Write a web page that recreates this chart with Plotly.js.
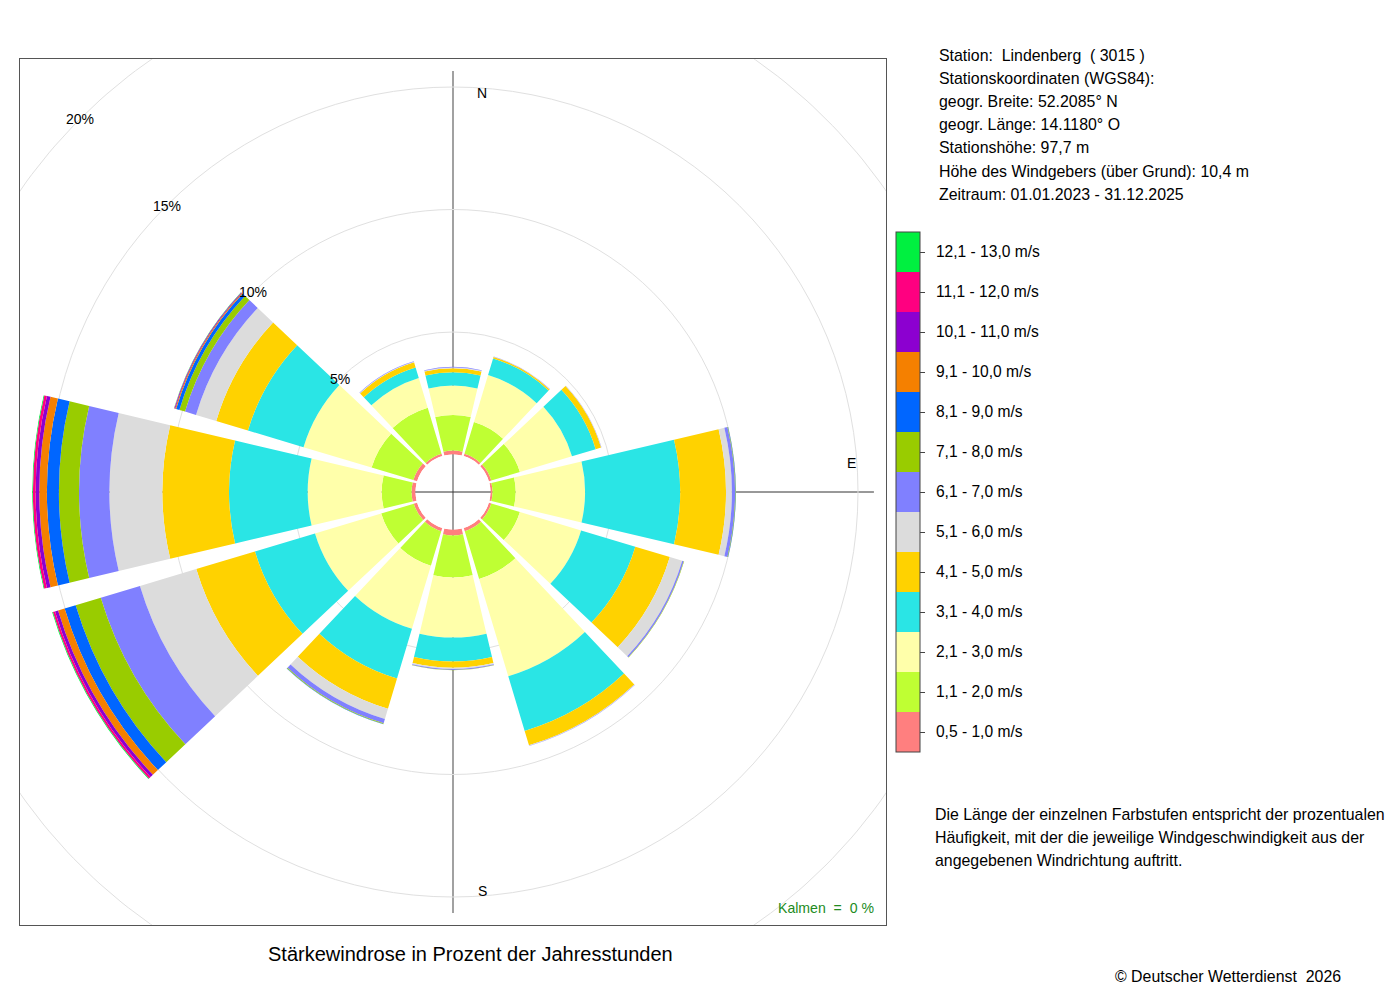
<!DOCTYPE html>
<html>
<head>
<meta charset="utf-8">
<script src="https://cdn.plot.ly/plotly-3.0.1.min.js"></script>
<style>
html,body{margin:0;padding:0;background:#fff;}
#chart{width:1400px;height:1000px;}
</style>
</head>
<body>
<div id="chart"></div>
<script>
// ---------------- data ----------------
const directions = [0, 30, 60, 90, 120, 150, 180, 210, 240, 270, 300, 330];

const classLabels = [
  '0,5 - 1,0 m/s', '1,1 - 2,0 m/s', '2,1 - 3,0 m/s', '3,1 - 4,0 m/s',
  '4,1 - 5,0 m/s', '5,1 - 6,0 m/s', '6,1 - 7,0 m/s', '7,1 - 8,0 m/s',
  '8,1 - 9,0 m/s', '9,1 - 10,0 m/s', '10,1 - 11,0 m/s', '11,1 - 12,0 m/s',
  '12,1 - 13,0 m/s'
];

const classColors = [
  '#FF7F7F', '#BFFF33', '#FFFFAA', '#2AE5E5', '#FFD200', '#DCDCDC', '#8080FF',
  '#99CC00', '#0066FF', '#F58000', '#8C00D0', '#FF0080', '#00F040'
];

// percent of hours per direction (N, NNE, ENE, E, ESE, SSE, S, SSW, WSW, W, WNW, NNW)
const v05_10  = [0.16, 0.10, 0.10, 0.08, 0.10, 0.14, 0.24, 0.14, 0.14, 0.16, 0.16, 0.10];
const v11_20  = [1.45, 1.35, 1.22, 0.95, 1.22, 2.04, 1.72, 1.47, 1.39, 1.22, 1.78, 1.96];
const v21_30  = [1.20, 2.00, 2.22, 2.83, 2.61, 4.14, 2.45, 2.69, 2.82, 3.02, 2.90, 1.27];
const v31_40  = [0.55, 0.71, 1.01, 3.88, 2.31, 2.33, 0.98, 2.12, 2.56, 3.21, 2.37, 0.45];
const v41_50  = [0.16, 0.06, 0.23, 1.87, 1.47, 0.61, 0.25, 1.29, 2.50, 2.72, 1.35, 0.22];
const v51_60  = [0.03, 0.01, 0.01, 0.24, 0.53, 0.02, 0.05, 0.43, 2.40, 2.16, 0.86, 0.02];
const v61_70  = [0.03, 0.01, 0.01, 0.13, 0.06, 0.01, 0.04, 0.18, 1.67, 1.24, 0.47, 0.02];
const v71_80  = [0.00, 0.00, 0.00, 0.02, 0.02, 0.00, 0.01, 0.04, 1.07, 0.82, 0.24, 0.00];
const v81_90  = [0.00, 0.00, 0.00, 0.01, 0.00, 0.00, 0.00, 0.01, 0.47, 0.49, 0.14, 0.00];
const v91_100 = [0.00, 0.00, 0.00, 0.00, 0.00, 0.00, 0.00, 0.00, 0.28, 0.31, 0.04, 0.00];
const v101_110= [0.00, 0.00, 0.00, 0.00, 0.00, 0.00, 0.00, 0.00, 0.13, 0.15, 0.03, 0.00];
const v111_120= [0.00, 0.00, 0.00, 0.00, 0.00, 0.00, 0.00, 0.00, 0.09, 0.11, 0.01, 0.00];
const v121_130= [0.00, 0.00, 0.00, 0.00, 0.00, 0.00, 0.00, 0.00, 0.03, 0.03, 0.01, 0.00];

const radialTicks = [5, 10, 15, 20];
const compassLabels = ['N', 'E', 'S'];
const compassAngles = [4.2, 85.8, 175.8];

const infoLines = [
  'Station:\u00a0 Lindenberg \u00a0( 3015 )',
  'Stationskoordinaten (WGS84):',
  'geogr. Breite: 52.2085° N',
  'geogr. Länge: 14.1180° O',
  'Stationshöhe: 97,7 m',
  'Höhe des Windgebers (über Grund): 10,4 m',
  'Zeitraum: 01.01.2023 - 31.12.2025'
];
const noteLines = [
  'Die Länge der einzelnen Farbstufen entspricht der prozentualen',
  'Häufigkeit, mit der die jeweilige Windgeschwindigkeit aus der',
  'angegebenen Windrichtung auftritt.'
];
const titleText = 'Stärkewindrose in Prozent der Jahresstunden';
const calmText = 'Kalmen \u00a0=\u00a0 0 %';
const copyrightText = '© Deutscher Wetterdienst \u00a02026';

const series = [v05_10, v11_20, v21_30, v31_40, v41_50, v51_60, v61_70,
                v71_80, v81_90, v91_100, v101_110, v111_120, v121_130];

// ---------------- geometry ----------------
const W = 1400, H = 1000;
const FONT = 'Liberation Sans, Arial, sans-serif';
const cx = 453, cy = 492;           // centre of the rose (px)
const holePx = 37.5;                // inner calm circle radius (px)
const rMax = 15.65;                 // radial range maximum (%)
const pxPerPct = 24.5;
const Rp = holePx + rMax * pxPerPct; // outer polar radius (px)
const frameHalf = 433;              // half size of the square frame (px)

function pxR(v) { return holePx + v * pxPerPct; }
function px2x(px) { return px / W; }
function py2y(py) { return 1 - py / H; }

// ---------------- traces ----------------
const traces = [];

// helper cartesian layer (under the polar plot): cross lines and clipped 20 % circle
traces.push({
  type: 'scatter', mode: 'lines', x: [0, 0], y: [-Rp, Rp],
  line: {color: '#8a8a8a', width: 1.6}, hoverinfo: 'skip', showlegend: false
});
traces.push({
  type: 'scatter', mode: 'lines', x: [-Rp, Rp], y: [0, 0],
  line: {color: '#333333', width: 1}, hoverinfo: 'skip', showlegend: false
});
(function () {
  const r = pxR(20), xs = [], ys = [];
  for (let a = 0; a <= 360; a += 1) {
    xs.push(r * Math.cos(a * Math.PI / 180));
    ys.push(r * Math.sin(a * Math.PI / 180));
  }
  traces.push({
    type: 'scatter', mode: 'lines', x: xs, y: ys,
    line: {color: '#e0e0e0', width: 1}, hoverinfo: 'skip', showlegend: false
  });
})();

// colour bar legend driven by a hidden marker
const cscale = [];
classColors.forEach((c, i) => {
  cscale.push([i / classColors.length, c]);
  cscale.push([(i + 1) / classColors.length, c]);
});
traces.push({
  type: 'scatter', mode: 'markers', x: [0], y: [0],
  marker: {
    size: 1, opacity: 0, color: [0], cmin: 0, cmax: classColors.length,
    colorscale: cscale, showscale: true,
    colorbar: {
      x: px2x(896), xanchor: 'left', xpad: 0,
      y: py2y(492), yanchor: 'middle', ypad: 0,
      len: 520, lenmode: 'pixels', thickness: 24, thicknessmode: 'pixels',
      outlinewidth: 1, outlinecolor: '#444',
      tickmode: 'array',
      tickvals: classLabels.map((_, i) => i + 0.5),
      ticktext: classLabels.map(t => '\u2002' + t),
      ticks: 'outside', ticklen: 5, tickcolor: '#444',
      tickfont: {family: FONT, size: 15.6, color: '#000'}
    }
  },
  hoverinfo: 'skip', showlegend: false
});

// the wind rose itself
series.forEach((vals, i) => {
  traces.push({
    type: 'barpolar',
    r: vals,
    theta: directions,
    width: 26.6,
    name: classLabels[i],
    marker: {color: classColors[i], line: {width: 0}},
    subplot: 'polar',
    showlegend: false,
    hovertemplate: '%{theta}°: %{r}%<extra>' + classLabels[i] + '</extra>'
  });
});

// ---------------- annotations ----------------
const annotations = [];
radialTicks.forEach(t => {
  const r = pxR(t);
  annotations.push({
    xref: 'x', yref: 'y', x: -r / Math.SQRT2, y: r / Math.SQRT2,
    text: t + '%', showarrow: false, xanchor: 'center', yanchor: 'middle',
    font: {family: FONT, size: 14, color: '#000'}
  });
});
compassLabels.forEach((lab, i) => {
  const a = compassAngles[i] * Math.PI / 180, r = 400;
  annotations.push({
    xref: 'x', yref: 'y', x: r * Math.sin(a), y: r * Math.cos(a),
    text: lab, showarrow: false, xanchor: 'center', yanchor: 'middle',
    font: {family: FONT, size: 14, color: '#000'}
  });
});
infoLines.forEach((t, i) => {
  annotations.push({
    xref: 'paper', yref: 'paper', x: px2x(937), y: py2y(55 + i * 23.2),
    text: t, showarrow: false, xanchor: 'left', yanchor: 'middle',
    font: {family: FONT, size: 15.9, color: '#000'}
  });
});
noteLines.forEach((t, i) => {
  annotations.push({
    xref: 'paper', yref: 'paper', x: px2x(933), y: py2y(814 + i * 23),
    text: t, showarrow: false, xanchor: 'left', yanchor: 'middle',
    font: {family: FONT, size: 15.9, color: '#000'}
  });
});
annotations.push({
  xref: 'paper', yref: 'paper', x: px2x(470.5), y: py2y(954),
  text: titleText, showarrow: false, xanchor: 'center', yanchor: 'middle',
  font: {family: FONT, size: 20, color: '#000'}
});
annotations.push({
  xref: 'paper', yref: 'paper', x: px2x(876), y: py2y(908),
  text: calmText, showarrow: false, xanchor: 'right', yanchor: 'middle',
  font: {family: FONT, size: 14.1, color: '#228B22'}
});
annotations.push({
  xref: 'paper', yref: 'paper', x: px2x(1113), y: py2y(976),
  text: copyrightText, showarrow: false, xanchor: 'left', yanchor: 'middle',
  font: {family: FONT, size: 15.9, color: '#000'}
});

// ---------------- layout ----------------
const layout = {
  width: W, height: H,
  margin: {l: 0, r: 0, t: 0, b: 0, pad: 0},
  paper_bgcolor: '#ffffff',
  plot_bgcolor: 'rgba(0,0,0,0)',
  showlegend: false,
  font: {family: FONT, color: '#000'},
  xaxis: {
    domain: [px2x(cx - frameHalf), px2x(cx + frameHalf)],
    range: [-frameHalf, frameHalf], fixedrange: true,
    showgrid: false, zeroline: false, showticklabels: false, ticks: '',
    showline: true, mirror: true, linecolor: '#555', linewidth: 1
  },
  yaxis: {
    domain: [py2y(cy + frameHalf), py2y(cy - frameHalf)],
    range: [-frameHalf, frameHalf], fixedrange: true,
    showgrid: false, zeroline: false, showticklabels: false, ticks: '',
    showline: true, mirror: true, linecolor: '#555', linewidth: 1
  },
  polar: {
    domain: {x: [px2x(cx - Rp), px2x(cx + Rp)], y: [py2y(cy + Rp), py2y(cy - Rp)]},
    hole: holePx / Rp,
    bgcolor: 'rgba(0,0,0,0)',
    barmode: 'stack',
    angularaxis: {
      rotation: 90, direction: 'clockwise',
      showgrid: false, showline: false, ticks: '', showticklabels: false
    },
    radialaxis: {
      range: [0, rMax], tickmode: 'array', tickvals: [5, 10, 15],
      showticklabels: false, ticks: '', showline: false,
      gridcolor: '#e0e0e0', gridwidth: 1
    }
  },
  annotations: annotations
};

Plotly.newPlot('chart', traces, layout, {displayModeBar: false, staticPlot: true});
</script>
</body>
</html>
